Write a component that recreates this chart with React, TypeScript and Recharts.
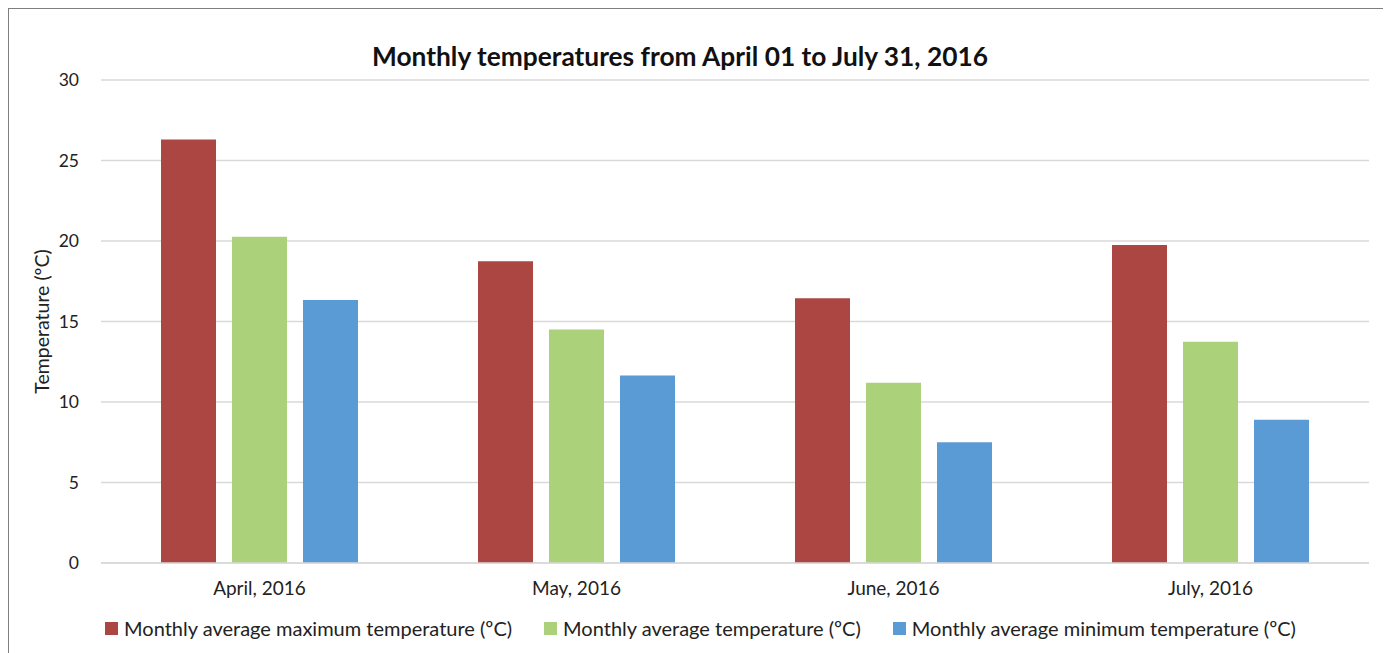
import { BarChart, Bar, XAxis, YAxis, CartesianGrid, Legend } from 'recharts'

const months = ['April, 2016', 'May, 2016', 'June, 2016', 'July, 2016']
const maxTemps = [26.3, 18.75, 16.45, 19.75]
const avgTemps = [20.27, 14.5, 11.2, 13.75]
const minTemps = [16.33, 11.65, 7.5, 8.9]
const yTicks = [0, 5, 10, 15, 20, 25, 30]

const seriesNames = [
  'Monthly average maximum temperature (ºC)',
  'Monthly average temperature (ºC)',
  'Monthly average minimum temperature (ºC)',
]
const colors = ['#AB4642', '#ABD27B', '#5B9BD5']

const data = months.map((m, i) => ({
  month: m,
  max: maxTemps[i],
  avg: avgTemps[i],
  min: minTemps[i],
}))

const FONT = 'Lato, "Open Sans", sans-serif'

// keep the legend in series order (recharts sorts it by name otherwise)
function LegendContent() {
  return (
    <div style={{ display: 'flex', justifyContent: 'center', gap: 32, fontFamily: FONT, fontSize: 20, color: '#222', paddingLeft: 8 }}>
      {seriesNames.map((name, i) => (
        <div key={name} style={{ display: 'flex', alignItems: 'center' }}>
          <span style={{ width: 13, height: 13, background: colors[i], marginRight: 6, display: 'inline-block' }} />
          <span>{name}</span>
        </div>
      ))}
    </div>
  )
}

export default function App() {
  return (
    <div style={{ position: 'relative', width: 1375, height: 660, border: '1px solid #7f7f7f', background: '#fff' }}>
      <div style={{ position: 'absolute', top: 31, left: 0, width: 1342, textAlign: 'center', fontFamily: FONT, fontWeight: 'bold', fontSize: 26.3, color: '#111' }}>
        Monthly temperatures from April 01 to July 31, 2016
      </div>
      <BarChart
        width={1375}
        height={660}
        data={data}
        margin={{ top: 71, right: 15, left: 30, bottom: 42 }}
        barGap={16}
        barCategoryGap={60}
      >
        <CartesianGrid vertical={false} stroke="#d9d9d9" strokeWidth={1.5} />
        <XAxis
          dataKey="month"
          axisLine={{ stroke: '#d9d9d9', strokeWidth: 1.5 }}
          tickLine={false}
          tickSize={0}
          tickMargin={19}
          height={40}
          tick={{ fill: '#222', fontSize: 19, fontFamily: FONT }}
        />
        <YAxis
          domain={[0, 30]}
          ticks={yTicks}
          axisLine={false}
          tickLine={false}
          tickSize={0}
          tickMargin={22}
          width={62}
          tick={{ fill: '#222', fontSize: 17.5, fontFamily: FONT }}
          label={{ value: 'Temperature (ºC)', angle: -90, position: 'insideLeft', offset: 3, style: { textAnchor: 'middle', fill: '#222', fontSize: 19.5, fontFamily: FONT } }}
        />
        <Legend
          content={<LegendContent />}
          wrapperStyle={{ top: 607, bottom: 'auto', left: 0, width: 1375 }}
        />
        <Bar dataKey="max" name={seriesNames[0]} fill={colors[0]} isAnimationActive={false} />
        <Bar dataKey="avg" name={seriesNames[1]} fill={colors[1]} isAnimationActive={false} />
        <Bar dataKey="min" name={seriesNames[2]} fill={colors[2]} isAnimationActive={false} />
      </BarChart>
    </div>
  )
}
